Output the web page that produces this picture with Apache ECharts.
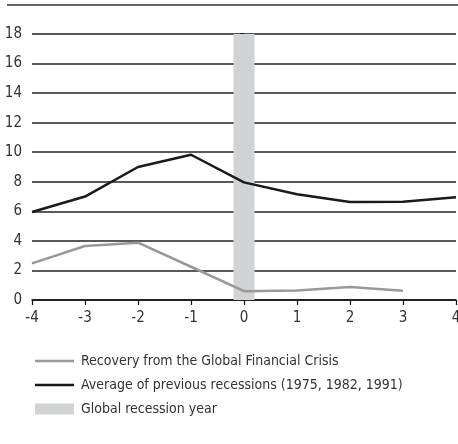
<!DOCTYPE html>
<html>
<head>
<meta charset="UTF-8">
<title>Recovery</title>
<script type="text/javascript" src="https://cdn.jsdelivr.net/npm/echarts@6/dist/echarts.min.js"></script>
<style>
  html, body { margin: 0; padding: 0; background: #fff; }
</style>
</head>
<body>
<div id="main" style="width:458px;height:444px"></div>
<script type="text/javascript">
// years relative to the global recession year
var years = [-4, -3, -2, -1, 0, 1, 2, 3, 4];
var gfc = [2.48, 3.65, 3.88, 2.25, 0.6, 0.65, 0.88, 0.63];      // Recovery from the GFC
var prevAvg = [5.95, 7.0, 9.0, 9.83, 7.96, 7.15, 6.63, 6.65, 6.95]; // previous recessions
var recessionYear = 0;
var recessionTop = 18;

var nameGfc = 'Recovery from the Global Financial Crisis';
var namePrev = 'Average of previous recessions (1975, 1982, 1991)';
var nameRec = 'Global recession year';

var font = '"Liberation Sans Narrow", "DejaVu Sans Condensed", sans-serif';
// thin line icon inside a 39x11 box (the lone moves keep the box size)
var lineIcon = 'path://M0,0 M39,11 M0,4.3 L39,4.3 L39,6.7 L0,6.7 Z';

var myEcharts = echarts.init(document.getElementById('main'));

function pairs(vals) {
  return vals.map(function (v, i) { return [years[i], v]; });
}

var option = {
  animation: false,
  textStyle: { fontFamily: font },
  graphic: [{
    type: 'line',
    shape: { x1: 7, y1: 5, x2: 458, y2: 5 },
    style: { stroke: '#666', lineWidth: 2 }
  }],
  grid: { left: 32, top: 34, right: 2, bottom: 144, outerBoundsMode: 'none' },
  legend: {
    orient: 'vertical',
    left: 30,
    top: 349,
    itemWidth: 39,
    itemHeight: 11,
    itemGap: 10,
    textStyle: { fontFamily: font, fontSize: 14, color: '#333', padding: [0, 0, 0, 2] },
    data: [
      { name: nameGfc, icon: lineIcon },
      { name: namePrev, icon: lineIcon },
      { name: nameRec, icon: 'rect' }
    ]
  },
  xAxis: {
    type: 'value',
    min: -4, max: 4, interval: 1,
    axisLine: { onZero: false, lineStyle: { color: '#111', width: 1.5 } },
    axisTick: { show: true, length: 5, lineStyle: { color: '#111', width: 1.2 } },
    axisLabel: { fontFamily: font, fontSize: 15, color: '#333', margin: 11 },
    splitLine: { show: false }
  },
  yAxis: {
    type: 'value',
    min: 0, max: 18, interval: 2,
    axisLine: { show: true, lineStyle: { color: '#111', width: 1.5 } },
    axisTick: { show: true, length: 4, lineStyle: { color: '#111', width: 1.5 } },
    axisLabel: { fontFamily: font, fontSize: 15, color: '#333', margin: 10 },
    splitLine: { show: true, lineStyle: { color: '#222', width: 1.5 } }
  },
  series: [
    {
      name: nameRec,
      type: 'bar',
      barWidth: 21,
      itemStyle: { color: '#d1d3d4' },
      data: [[recessionYear, recessionTop]],
      z: 2
    },
    {
      name: nameGfc,
      type: 'line',
      symbol: 'none',
      lineStyle: { color: '#999', width: 2.5 },
      itemStyle: { color: '#999' },
      data: pairs(gfc),
      z: 3
    },
    {
      name: namePrev,
      type: 'line',
      symbol: 'none',
      lineStyle: { color: '#1a1a1a', width: 2.5 },
      itemStyle: { color: '#1a1a1a' },
      data: pairs(prevAvg),
      z: 4
    }
  ]
};

myEcharts.setOption(option);
</script>
</body>
</html>
